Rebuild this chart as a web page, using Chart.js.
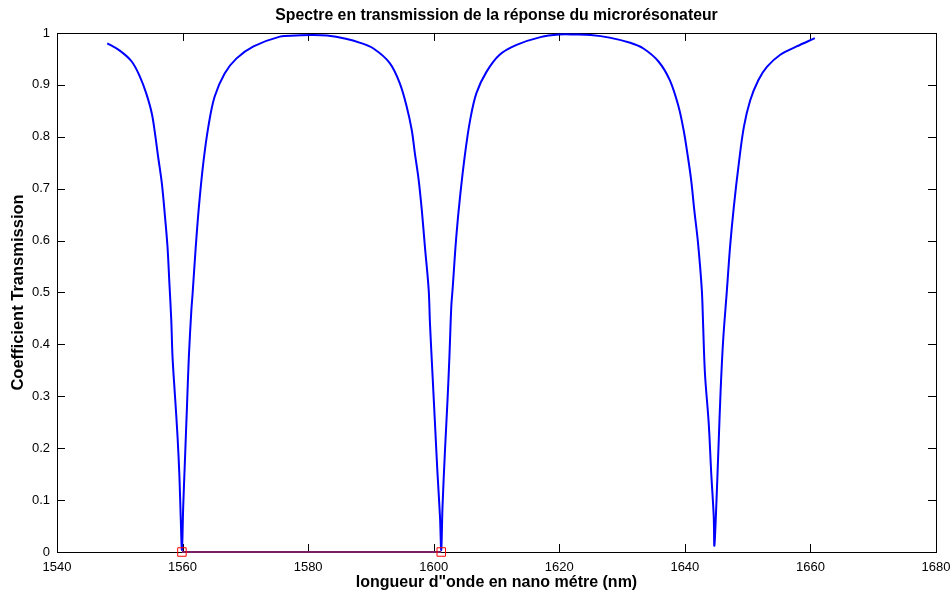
<!DOCTYPE html>
<html>
<head>
<meta charset="utf-8">
<script src="https://cdn.jsdelivr.net/npm/chart.js@4.4.1/dist/chart.umd.min.js"></script>
<style>
  html, body { margin: 0; padding: 0; background: #fff; }
  #wrap { width: 952px; height: 597px; position: relative; }
</style>
</head>
<body>
<div id="wrap"><canvas id="spectre"></canvas></div>
<script>
// Spectre en transmission.

const lambdaNm = [
  1548.0, 1550.0, 1551.9, 1553.2, 1554.2, 1555.1, 1555.6, 1556.1, 1556.7, 1557.2, 1557.6, 1557.9, 1558.2, 1558.4, 1558.8, 1559.2, 1559.5, 1559.7, 1559.9,
  1560.1, 1560.4, 1560.7, 1561.0, 1561.4, 1561.6, 1562.1, 1562.6, 1563.3, 1564.1, 1565.1, 1566.7, 1568.6, 1571.3, 1575.5, 1578.0, 1580.5, 1583.0, 1586.0,
  1588.3, 1590.4, 1593.0, 1594.6, 1595.7, 1596.5, 1597.0, 1597.6, 1598.1, 1598.6, 1599.2, 1599.4, 1599.8, 1600.2, 1600.6, 1601.0, 1601.2,
  1601.4, 1601.8, 1602.2, 1602.5, 1602.8, 1603.0, 1603.6, 1604.2, 1605.0, 1605.8, 1606.8, 1608.4, 1610.5, 1613.2, 1617.0, 1620.0, 1622.5, 1625.0, 1628.0,
  1631.3, 1633.4, 1635.8, 1637.6, 1639.0, 1639.8, 1640.4, 1641.0, 1641.5, 1642.1, 1642.7, 1642.9, 1643.2, 1643.8, 1644.2, 1644.6, 1644.7,
  1645.0, 1645.4, 1645.7, 1646.1, 1646.7, 1647.2, 1647.8, 1648.6, 1649.4, 1650.4, 1651.7, 1653.1, 1655.2, 1657.8, 1660.7,
];

const transmission = [
  0.980, 0.966, 0.945, 0.916, 0.884, 0.845, 0.807, 0.762, 0.710, 0.646, 0.588, 0.518, 0.447, 0.376, 0.299, 0.222, 0.145, 0.068, 0.004,
  0.087, 0.184, 0.280, 0.376, 0.466, 0.498, 0.588, 0.665, 0.749, 0.819, 0.877, 0.922, 0.951, 0.974, 0.993, 0.995, 0.996, 0.995, 0.989,
  0.981, 0.970, 0.942, 0.903, 0.858, 0.813, 0.768, 0.717, 0.659, 0.588, 0.505, 0.441, 0.344, 0.248, 0.152, 0.068, 0.004,
  0.087, 0.197, 0.293, 0.376, 0.473, 0.505, 0.608, 0.685, 0.768, 0.832, 0.884, 0.925, 0.958, 0.977, 0.992, 0.997, 0.997, 0.996, 0.991,
  0.981, 0.970, 0.945, 0.909, 0.858, 0.813, 0.768, 0.717, 0.659, 0.595, 0.505, 0.441, 0.344, 0.248, 0.152, 0.068, 0.012,
  0.087, 0.216, 0.312, 0.408, 0.505, 0.588, 0.665, 0.749, 0.819, 0.870, 0.909, 0.935, 0.958, 0.974, 0.990,
];

// minima marqués (carrés rouges) et segment qui les relie
const minLambda = [1559.9, 1601.2];
const minT = [0, 0];

const xTicks = [1540, 1560, 1580, 1600, 1620, 1640, 1660, 1680];
const yTicks = [0, 0.1, 0.2, 0.3, 0.4, 0.5, 0.6, 0.7, 0.8, 0.9, 1];

const FONT = "Arial, 'Liberation Sans', Helvetica, sans-serif";
const TICK_LEN = 8;

// cadre + graduations vers l'intérieur, façon MATLAB
const boxTicks = {
  id: "boxTicks",
  beforeDatasetsDraw(chart) {
    const { ctx, chartArea: a, scales } = chart;
    ctx.save();
    ctx.strokeStyle = "#000";
    ctx.lineWidth = 1;
    ctx.beginPath();
    for (const v of xTicks) {
      const px = Math.round(scales.x.getPixelForValue(v)) + 0.5;
      ctx.moveTo(px, a.bottom);
      ctx.lineTo(px, a.bottom - TICK_LEN);
      ctx.moveTo(px, a.top);
      ctx.lineTo(px, a.top + TICK_LEN);
    }
    for (const v of yTicks) {
      const py = Math.round(scales.y.getPixelForValue(v)) + 0.5;
      ctx.moveTo(a.left, py);
      ctx.lineTo(a.left + TICK_LEN, py);
      ctx.moveTo(a.right, py);
      ctx.lineTo(a.right - TICK_LEN, py);
    }
    ctx.stroke();
    ctx.strokeRect(Math.round(a.left) + 0.5, Math.round(a.top) + 0.5, Math.round(a.width), Math.round(a.height));
    ctx.restore();
  },
};

const curve = lambdaNm.map((x, i) => ({ x, y: transmission[i] }));
const minima = minLambda.map((x, i) => ({ x, y: minT[i] }));

new Chart(document.getElementById("spectre"), {
  type: "scatter",
  data: {
    datasets: [
      {
        label: "minima",
        data: minima,
        showLine: false,
        pointStyle: "rect",
        pointRadius: 6,
        pointBorderColor: "#ff0000",
        pointBackgroundColor: "rgba(0,0,0,0)",
        pointBorderWidth: 1,
        clip: false,
        order: 0,
      },
      {
        label: "segment",
        data: minima,
        showLine: true,
        borderColor: "#7a1e64",
        borderWidth: 2,
        pointRadius: 0,
        clip: false,
        order: 1,
      },
      {
        label: "T",
        data: curve,
        showLine: true,
        borderColor: "#0000ff",
        borderWidth: 2,
        pointRadius: 0,
        tension: 0.35,
        order: 2,
      },
    ],
  },
  options: {
    responsive: true,
    maintainAspectRatio: false,
    animation: false,
    layout: { padding: { left: 0, right: 16, top: 0, bottom: 0 } },
    plugins: {
      legend: { display: false },
      tooltip: { enabled: false },
      title: {
        display: true,
        fullSize: false,
        text: "Spectre en transmission de la réponse du microrésonateur",
        color: "#000",
        font: { family: FONT, size: 15.8, weight: "bold", lineHeight: 1.2 },
        padding: { top: 6.2, bottom: 7.8 },
      },
    },
    scales: {
      x: {
        type: "linear",
        min: 1540,
        max: 1680,
        afterBuildTicks: (s) => { s.ticks = xTicks.map((value) => ({ value })); },
        afterFit: (s) => { s.height = 45; s.paddingLeft = 0; s.paddingRight = 0; },
        grid: { display: false, drawTicks: false },
        border: { display: false },
        ticks: { color: "#000", padding: 8, maxRotation: 0, font: { family: FONT, size: 13 }, callback: (v) => String(v) },
        title: {
          display: true,
          text: "longueur d\"onde en nano métre (nm)",
          color: "#000",
          font: { family: FONT, size: 16, weight: "bold", lineHeight: 1.2 },
          padding: { top: 0, bottom: 4.7 },
        },
      },
      y: {
        min: 0,
        max: 1,
        afterBuildTicks: (s) => { s.ticks = yTicks.map((value) => ({ value })); },
        afterFit: (s) => { s.width = 57; },
        grid: { display: false, drawTicks: false },
        border: { display: false },
        ticks: { color: "#000", padding: 7, font: { family: FONT, size: 13 }, callback: (v) => String(v) },
        title: {
          display: true,
          text: "Coefficient Transmission",
          color: "#000",
          font: { family: FONT, size: 16.5, weight: "bold", lineHeight: 1.2 },
          padding: { top: 9, bottom: 0 },
        },
      },
    },
  },
  plugins: [boxTicks],
});
</script>
</body>
</html>
